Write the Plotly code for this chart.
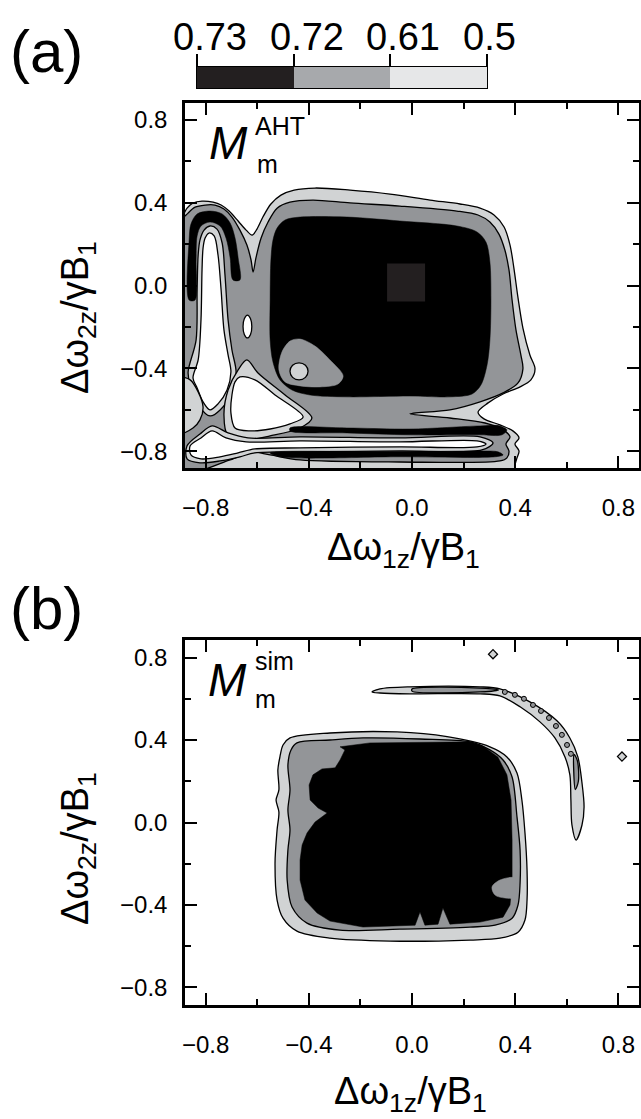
import plotly.graph_objects as go

W, H = 641, 1119
FONT = "Liberation Sans, Arial, sans-serif"

# fill colours of the contour bands
C_BLACK = "#000000"
C_GRAY = "#939598"
C_LIGHT = "#d1d3d4"
C_WHITE = "#ffffff"
# colour key swatches and the level values at their edges
KEY_COLORS = ["#231f20", "#a7a9ac", "#e6e7e8"]
KEY_LABELS = ["0.73", "0.72", "0.61", "0.5"]

AXIS_TICKS = [-0.8, -0.4, 0.0, 0.4, 0.8]
AXIS_MINOR = [-0.6, -0.2, 0.2, 0.6]

# ---------------- panel (a): contour regions (x, y) ----------------
A_LIGHT = [(-0.888, 0.340), (-0.872, 0.373), (-0.849, 0.398), (-0.814, 0.407), (-0.771, 0.402),
           (-0.740, 0.388), (-0.709, 0.359), (-0.674, 0.311), (-0.643, 0.267), (-0.620, 0.243),
           (-0.601, 0.272), (-0.578, 0.330), (-0.547, 0.393), (-0.508, 0.436), (-0.457, 0.460),
           (-0.376, 0.470), (-0.240, 0.460), (-0.085, 0.441), (0.070, 0.412), (0.186, 0.393),
           (0.264, 0.373), (0.318, 0.340), (0.357, 0.282), (0.380, 0.195), (0.395, 0.084),
           (0.411, -0.060), (0.430, -0.205), (0.457, -0.335), (0.477, -0.402), (0.461, -0.455),
           (0.419, -0.489), (0.353, -0.523), (0.295, -0.566), (0.256, -0.610), (0.279, -0.643),
           (0.341, -0.672), (0.391, -0.701), (0.415, -0.735), (0.399, -0.764), (0.415, -0.798),
           (0.407, -0.831), (0.399, -0.865), (0.391, -0.900), (-0.900, -0.900), (-0.900, 0.330)]

A_GRAY = [(-0.900, 0.300), (-0.868, 0.349), (-0.841, 0.378), (-0.802, 0.388), (-0.764, 0.388),
          (-0.729, 0.369), (-0.698, 0.330), (-0.667, 0.267), (-0.640, 0.195), (-0.624, 0.123),
          (-0.616, 0.065), (-0.605, 0.133), (-0.585, 0.229), (-0.558, 0.306), (-0.523, 0.373),
          (-0.473, 0.402), (-0.384, 0.412), (-0.240, 0.398), (-0.047, 0.383), (0.174, 0.359),
          (0.256, 0.340), (0.302, 0.306), (0.337, 0.248), (0.360, 0.171), (0.376, 0.075),
          (0.388, -0.070), (0.403, -0.214), (0.422, -0.335), (0.430, -0.402), (0.411, -0.470),
          (0.353, -0.518), (0.264, -0.561), (0.147, -0.600), (-0.008, -0.619), (0.147, -0.639),
          (0.283, -0.663), (0.353, -0.696), (0.380, -0.730), (0.364, -0.764), (0.376, -0.798),
          (0.368, -0.831), (0.341, -0.846), (-0.047, -0.851), (-0.434, -0.841), (-0.550, -0.817),
          (-0.628, -0.802), (-0.705, -0.841), (-0.900, -0.889)]

A_BLACK = [(-0.539, 0.219), (-0.523, 0.277), (-0.492, 0.316), (-0.434, 0.330), (-0.252, 0.330),
           (-0.047, 0.311), (0.174, 0.287), (0.252, 0.258), (0.287, 0.209), (0.302, 0.113),
           (0.306, -0.070), (0.302, -0.263), (0.291, -0.383), (0.267, -0.480), (0.233, -0.523),
           (0.147, -0.537), (-0.008, -0.533), (-0.252, -0.537), (-0.395, -0.528), (-0.465, -0.504),
           (-0.512, -0.455), (-0.539, -0.369), (-0.550, -0.263), (-0.550, -0.070), (-0.547, 0.123)]

A_LOBE_BLACK = [(-0.864, -0.070), (-0.864, 0.219), (-0.857, 0.296), (-0.833, 0.345), (-0.783, 0.359),
                (-0.736, 0.345), (-0.705, 0.301), (-0.686, 0.229), (-0.674, 0.133), (-0.667, 0.027),
                (-0.694, 0.027), (-0.705, 0.133), (-0.721, 0.229), (-0.744, 0.287), (-0.783, 0.306),
                (-0.818, 0.287), (-0.833, 0.239), (-0.837, 0.123), (-0.841, -0.070)]

A_CORE_RIM = [(-0.822, 0.219), (-0.806, 0.267), (-0.783, 0.287), (-0.756, 0.272), (-0.736, 0.205),
              (-0.725, 0.051), (-0.713, -0.166), (-0.698, -0.311), (-0.682, -0.417), (-0.698, -0.513),
              (-0.744, -0.600), (-0.783, -0.629), (-0.826, -0.580), (-0.860, -0.480), (-0.868, -0.417),
              (-0.837, -0.263), (-0.833, -0.022), (-0.829, 0.147)]

A_CORE = [(-0.802, 0.229), (-0.787, 0.253), (-0.767, 0.239), (-0.752, 0.147), (-0.740, -0.022),
          (-0.729, -0.214), (-0.713, -0.335), (-0.702, -0.417), (-0.717, -0.504), (-0.752, -0.571),
          (-0.783, -0.600), (-0.810, -0.561), (-0.833, -0.494), (-0.849, -0.446), (-0.829, -0.359),
          (-0.818, -0.166), (-0.814, 0.075), (-0.810, 0.181)]

A_EDGE_BLOB = [(-0.900, -0.446), (-0.860, -0.455), (-0.829, -0.513), (-0.810, -0.586), (-0.822, -0.648),
               (-0.849, -0.687), (-0.900, -0.711)]

A_TRI_RIM = [(-0.640, -0.359), (-0.597, -0.422), (-0.492, -0.528), (-0.388, -0.639), (-0.434, -0.687),
             (-0.550, -0.725), (-0.647, -0.745), (-0.713, -0.725), (-0.729, -0.624), (-0.713, -0.504),
             (-0.674, -0.407)]

A_TRI = [(-0.667, -0.441), (-0.609, -0.455), (-0.531, -0.528), (-0.422, -0.634), (-0.473, -0.667),
         (-0.550, -0.692), (-0.628, -0.701), (-0.686, -0.687), (-0.702, -0.614), (-0.698, -0.528),
         (-0.686, -0.465)]

A_BAND_RIM = [(-0.872, -0.773), (-0.822, -0.716), (-0.775, -0.677), (-0.713, -0.711), (-0.636, -0.735),
              (-0.434, -0.730), (-0.047, -0.735), (0.264, -0.730), (0.314, -0.759), (0.271, -0.793),
              (-0.047, -0.798), (-0.434, -0.802), (-0.609, -0.807), (-0.667, -0.826), (-0.744, -0.846),
              (-0.822, -0.855), (-0.872, -0.836)]

A_BAND_CORE = [(-0.860, -0.773), (-0.818, -0.735), (-0.775, -0.701), (-0.721, -0.735), (-0.643, -0.754),
               (-0.434, -0.749), (-0.047, -0.754), (0.252, -0.749), (0.287, -0.764), (0.252, -0.778),
               (-0.047, -0.778), (-0.434, -0.783), (-0.609, -0.788), (-0.674, -0.807), (-0.744, -0.826),
               (-0.818, -0.836), (-0.857, -0.817)]

A_STRIPE_UP = [(-0.473, -0.687), (-0.252, -0.687), (-0.008, -0.692), (0.264, -0.677), (0.341, -0.677),
               (0.368, -0.696), (0.349, -0.720), (0.264, -0.720), (-0.008, -0.720), (-0.252, -0.711),
               (-0.473, -0.701)]

A_STRIPE_LOW = [(-0.550, -0.807), (-0.047, -0.802), (0.264, -0.798), (0.333, -0.802), (0.353, -0.817),
                (0.322, -0.826), (-0.047, -0.826), (-0.512, -0.826)]

A_POCKET = [(-0.504, -0.320), (-0.473, -0.268), (-0.434, -0.258), (-0.376, -0.292), (-0.318, -0.359),
            (-0.267, -0.436), (-0.287, -0.475), (-0.357, -0.489), (-0.434, -0.484), (-0.492, -0.465),
            (-0.516, -0.407)]

A_POCKET_HOLE = [(-0.473, -0.414), (-0.463, -0.385), (-0.438, -0.373), (-0.413, -0.385),
                 (-0.403, -0.414), (-0.413, -0.443), (-0.438, -0.455), (-0.463, -0.443)]

A_SMALL_HOLE = [(-0.655, -0.198), (-0.650, -0.160), (-0.638, -0.143), (-0.626, -0.160),
                (-0.621, -0.198), (-0.626, -0.236), (-0.638, -0.253), (-0.650, -0.236)]

A_CENTER_CELL = (-0.023, 0.014)

# ---------------- panel (b): contour regions (x, y) ----------------
B_LIGHT = [(-0.500, 0.376), (-0.473, 0.410), (-0.318, 0.434), (-0.058, 0.439), (0.136, 0.416),
           (0.302, 0.367), (0.368, 0.318), (0.407, 0.240), (0.426, 0.109), (0.438, -0.051),
           (0.446, -0.231), (0.446, -0.376), (0.438, -0.473), (0.411, -0.532), (0.341, -0.561),
           (0.225, -0.570), (-0.085, -0.575), (-0.318, -0.561), (-0.446, -0.527), (-0.500, -0.464),
           (-0.523, -0.376), (-0.531, -0.197), (-0.523, -0.036), (-0.516, 0.051), (-0.527, 0.109),
           (-0.516, 0.158), (-0.520, 0.255), (-0.512, 0.318)]

B_GRAY = [(-0.446, 0.386), (-0.318, 0.400), (-0.190, 0.410), (0.031, 0.405), (0.225, 0.391),
          (0.302, 0.352), (0.353, 0.303), (0.388, 0.221), (0.407, 0.027), (0.419, -0.133),
          (0.419, -0.294), (0.411, -0.400), (0.388, -0.464), (0.322, -0.498), (0.225, -0.507),
          (-0.047, -0.517), (-0.279, -0.522), (-0.407, -0.488), (-0.465, -0.410), (-0.484, -0.279),
          (-0.481, -0.133), (-0.473, -0.036), (-0.481, 0.061), (-0.473, 0.158), (-0.481, 0.279),
          (-0.469, 0.352)]

B_BLACK = [(-0.279, 0.367), (-0.163, 0.386), (0.225, 0.391), (0.275, 0.371), (0.333, 0.318),
           (0.368, 0.231), (0.384, 0.109), (0.388, -0.085), (0.388, -0.294), (0.380, -0.400),
           (0.353, -0.459), (0.264, -0.483), (0.147, -0.493), (0.120, -0.415), (0.101, -0.493),
           (0.050, -0.498), (0.031, -0.434), (0.012, -0.498), (-0.190, -0.507), (-0.318, -0.478),
           (-0.368, -0.439), (-0.415, -0.376), (-0.434, -0.279), (-0.434, -0.182), (-0.426, -0.109),
           (-0.407, -0.051), (-0.376, 0.002), (-0.329, 0.046), (-0.364, 0.070), (-0.395, 0.109),
           (-0.399, 0.182), (-0.384, 0.231), (-0.349, 0.260), (-0.298, 0.265), (-0.279, 0.303),
           (-0.260, 0.352)]

B_NOTCH = [(0.400, -0.270), (0.341, -0.279), (0.310, -0.313), (0.322, -0.352), (0.360, -0.366),
           (0.400, -0.362)]

B_ARC = [(-0.155, 0.633), (-0.124, 0.648), (-0.008, 0.658), (0.264, 0.658), (0.341, 0.648),
         (0.457, 0.585), (0.562, 0.493), (0.612, 0.410), (0.643, 0.318), (0.659, 0.192),
         (0.667, 0.075), (0.659, -0.012), (0.636, -0.085), (0.620, -0.012), (0.616, 0.109),
         (0.612, 0.231), (0.593, 0.318), (0.554, 0.410), (0.496, 0.488), (0.419, 0.561),
         (0.341, 0.614), (0.264, 0.624), (-0.008, 0.624), (-0.124, 0.628)]

B_ARC_INNER_TOP = [(0.000, 0.647), (0.264, 0.652), (0.335, 0.643), (0.264, 0.633), (0.000, 0.637)]
B_ARC_INNER_SIDE = [(0.628, 0.330), (0.641, 0.300), (0.645, 0.200), (0.633, 0.160), (0.627, 0.250)]

# small closed contours strung along the arc
B_BEADS_X = [0.360, 0.399, 0.434, 0.469, 0.500, 0.531, 0.558, 0.581, 0.601, 0.616]
B_BEADS_Y = [0.633, 0.619, 0.600, 0.570, 0.541, 0.507, 0.468, 0.425, 0.376, 0.333]

B_SPECKS_X = [0.314, 0.814]
B_SPECKS_Y = [0.816, 0.320]


def region(pts, fill, xa, ya, outline=True, shape="spline", smooth=0.9):
    xs = [p[0] for p in pts] + [pts[0][0]]
    ys = [p[1] for p in pts] + [pts[0][1]]
    line = dict(color="black" if outline else fill, width=1.3 if outline else 0.5,
                shape=shape, smoothing=smooth if shape == "spline" else None)
    return go.Scatter(x=xs, y=ys, mode="lines", fill="toself", fillcolor=fill, line=line,
                      hoverinfo="skip", showlegend=False, xaxis=xa, yaxis=ya)


fig = go.Figure()

# panel (a)
for pts, col, ol, sh in [
    (A_LIGHT, C_LIGHT, True, "spline"),
    (A_GRAY, C_GRAY, True, "spline"),
    (A_BLACK, C_BLACK, False, "spline"),
    (A_POCKET, C_GRAY, False, "spline"),
    (A_POCKET_HOLE, C_LIGHT, True, "spline"),
    (A_LOBE_BLACK, C_BLACK, False, "spline"),
    (A_CORE_RIM, C_LIGHT, True, "spline"),
    (A_CORE, C_WHITE, True, "spline"),
    (A_EDGE_BLOB, C_LIGHT, True, "spline"),
    (A_TRI_RIM, C_LIGHT, True, "spline"),
    (A_TRI, C_WHITE, True, "spline"),
    (A_STRIPE_UP, C_BLACK, False, "spline"),
    (A_BAND_RIM, C_LIGHT, True, "spline"),
    (A_BAND_CORE, C_WHITE, True, "spline"),
    (A_STRIPE_LOW, C_BLACK, False, "spline"),
    (A_SMALL_HOLE, C_WHITE, True, "spline"),
]:
    fig.add_trace(region(pts, col, "x", "y", outline=ol, shape=sh))

fig.add_trace(go.Scatter(x=[A_CENTER_CELL[0]], y=[A_CENTER_CELL[1]], mode="markers",
                         marker=dict(symbol="square", size=38, color="#231f20"),
                         hoverinfo="skip", showlegend=False, xaxis="x", yaxis="y"))

# panel (b)
for pts, col, ol, sh in [
    (B_LIGHT, C_LIGHT, True, "spline"),
    (B_GRAY, C_GRAY, True, "spline"),
    (B_BLACK, C_BLACK, False, "linear"),
    (B_NOTCH, C_GRAY, False, "spline"),
    (B_ARC, C_LIGHT, True, "spline"),
    (B_ARC_INNER_TOP, C_GRAY, True, "spline"),
    (B_ARC_INNER_SIDE, C_GRAY, True, "spline"),
]:
    fig.add_trace(region(pts, col, "x2", "y2", outline=ol, shape=sh))

fig.add_trace(go.Scatter(x=B_BEADS_X, y=B_BEADS_Y, mode="markers",
                         marker=dict(symbol="circle", size=5, color=C_GRAY,
                                     line=dict(color="black", width=1)),
                         hoverinfo="skip", showlegend=False, xaxis="x2", yaxis="y2"))
fig.add_trace(go.Scatter(x=B_SPECKS_X, y=B_SPECKS_Y, mode="markers",
                         marker=dict(symbol="diamond", size=7, color=C_LIGHT,
                                     line=dict(color="black", width=1.2)),
                         hoverinfo="skip", showlegend=False, xaxis="x2", yaxis="y2"))

# colour key
KEY_EDGES = [-0.5, 0.5, 1.5, 2.5]
fig.add_trace(go.Heatmap(z=[[0, 1, 2]], x=[0, 1, 2], y=[0],
                         colorscale=[[0, KEY_COLORS[0]], [0.333, KEY_COLORS[0]],
                                     [0.333, KEY_COLORS[1]], [0.667, KEY_COLORS[1]],
                                     [0.667, KEY_COLORS[2]], [1, KEY_COLORS[2]]],
                         zmin=0, zmax=2, showscale=False, hoverinfo="skip",
                         xaxis="x3", yaxis="y3"))


def px_x(p):
    return p / W


def px_y(p):
    return 1 - p / H


tick_font = dict(family=FONT, size=24, color="black")
common_ax = dict(showline=True, linewidth=2.5, linecolor="black", mirror="ticks",
                 ticks="inside", ticklen=12, tickwidth=2, tickcolor="black",
                 showgrid=False, zeroline=False, tickfont=tick_font, automargin=False,
                 tickvals=AXIS_TICKS, ticktext=["\u22120.8", "\u22120.4", "0.0", "0.4", "0.8"],
                 minor=dict(tickvals=AXIS_MINOR, ticklen=6, tickwidth=2, ticks="inside",
                            tickcolor="black"))

xdom = [px_x(185), px_x(639)]
fig.update_layout(
    width=W, height=H, margin=dict(l=0, r=0, t=0, b=0, autoexpand=False),
    paper_bgcolor="white", plot_bgcolor="white", showlegend=False,
    font=dict(family=FONT, color="black"),
    xaxis=dict(common_ax, domain=xdom, range=[-0.88, 0.88], anchor="y", ticklabelstandoff=16),
    yaxis=dict(common_ax, domain=[px_y(468), px_y(103)], range=[-0.88, 0.88], anchor="x",
               ticklabelstandoff=10),
    xaxis2=dict(common_ax, domain=xdom, range=[-0.88, 0.88], anchor="y2", ticklabelstandoff=16),
    yaxis2=dict(common_ax, domain=[px_y(1005), px_y(640)], range=[-0.885, 0.885], anchor="x2",
                ticklabelstandoff=10),
    xaxis3=dict(domain=[px_x(197), px_x(487)], range=[-0.5, 2.5], anchor="y3", side="top",
                tickvals=KEY_EDGES, showticklabels=False, ticks="outside",
                ticklen=12, tickwidth=1.5, tickcolor="black", showline=True, linewidth=1,
                linecolor="black", mirror=True, showgrid=False, zeroline=False, automargin=False),
    yaxis3=dict(domain=[px_y(88), px_y(67)], range=[-0.5, 0.5], anchor="x3",
                showticklabels=False, ticks="", showline=True, linewidth=1, linecolor="black",
                mirror=True, showgrid=False, zeroline=False, automargin=False),
)

ann = []


def label(text, x, y, size, xanchor="center", yanchor="middle", angle=0):
    ann.append(dict(text=text, x=px_x(x), y=px_y(y), xref="paper", yref="paper",
                    showarrow=False, xanchor=xanchor, yanchor=yanchor, textangle=angle,
                    font=dict(family=FONT, size=size, color="black")))


# level values written next to the key's edge ticks
for edge, txt in zip(KEY_EDGES, KEY_LABELS):
    ann.append(dict(text=txt, x=edge, xref="x3", y=px_y(37), yref="paper", xanchor="left",
                    xshift=-26, yanchor="middle", showarrow=False,
                    font=dict(family=FONT, size=38, color="black")))

label("(a)", 46, 52, 60)
label("(b)", 46, 608, 60)
label("<i>M</i>", 228, 143, 46)
label("AHT", 253, 126, 25, xanchor="left")
label("m", 255, 164, 25, xanchor="left")
label("<i>M</i>", 227, 680, 46)
label("sim", 253, 661, 25, xanchor="left")
label("m", 253, 699, 25, xanchor="left")
x_title = "\u0394\u03c9<sub>1z</sub>/\u03b3B<sub>1</sub>"
y_title = "\u0394\u03c9<sub>2z</sub>/\u03b3B<sub>1</sub>"
label(x_title, 403, 550, 38)
label(x_title, 410, 1094, 38)
label(y_title, 78, 318, 38, angle=-90)
label(y_title, 78, 849, 38, angle=-90)

fig.update_layout(annotations=ann)
fig.write_html("out.html")
